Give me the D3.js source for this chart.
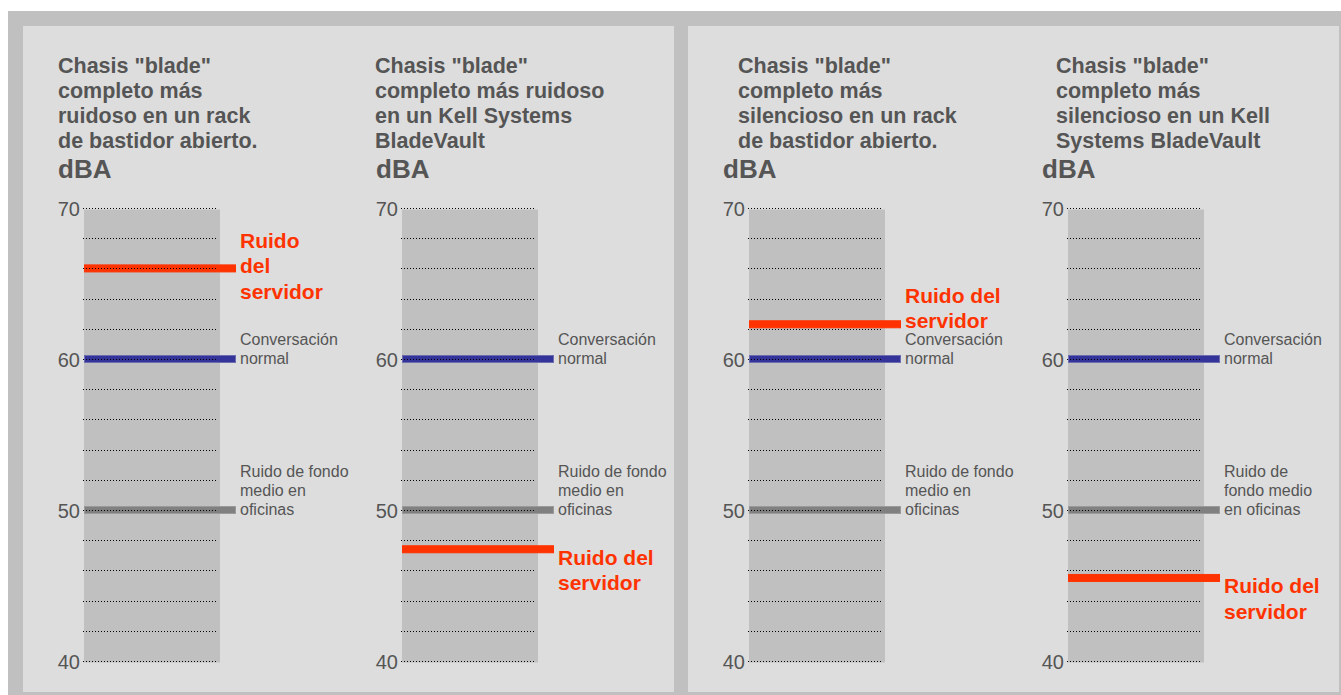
<!DOCTYPE html>
<html>
<head>
<meta charset="utf-8">
<script src="https://cdn.jsdelivr.net/npm/d3@7/dist/d3.min.js"></script>
<style>
  html, body { margin: 0; padding: 0; background: #ffffff; }
  svg { display: block; font-family: "Liberation Sans", Arial, Helvetica, sans-serif; }
</style>
</head>
<body>
<svg id="chart" width="1341" height="695"></svg>
<script>
// ---------------- data ----------------
const panelTitles = [
  ['Chasis "blade"', 'completo más', 'ruidoso en un rack', 'de bastidor abierto.'],
  ['Chasis "blade"', 'completo más ruidoso', 'en un Kell Systems', 'BladeVault'],
  ['Chasis "blade"', 'completo más', 'silencioso en un rack', 'de bastidor abierto.'],
  ['Chasis "blade"', 'completo más', 'silencioso en un Kell', 'Systems BladeVault']
];
const unitLabel = "dBA";
const serverNoise = [66, 47.4, 62.3, 45.5];
const conversationLevel = [60, 60, 60, 60];
const officeLevel = [50, 50, 50, 50];
const serverLabels = [
  ["Ruido", "del", "servidor"],
  ["Ruido del", "servidor"],
  ["Ruido del", "servidor"],
  ["Ruido del", "servidor"]
];
const conversationLabels = [
  ["Conversación", "normal"],
  ["Conversación", "normal"],
  ["Conversación", "normal"],
  ["Conversación", "normal"]
];
const officeLabels = [
  ["Ruido de fondo", "medio en", "oficinas"],
  ["Ruido de fondo", "medio en", "oficinas"],
  ["Ruido de fondo", "medio en", "oficinas"],
  ["Ruido de", "fondo medio", "en oficinas"]
];
const axisTicks = [40, 50, 60, 70];
const gridTicks = [40, 42, 44, 46, 48, 50, 52, 54, 56, 58, 60, 62, 64, 66, 68, 70];
const yDomain = [40, 70];

// ---------------- layout (not data) ----------------
const W = 1341, H = 695;
const colX = [84, 402, 749, 1068];
const titleIndent = [-26, -27, -11, -12];
const serverPlacement = ["middle", "below", "above", "below"];
const colW = 136, lineW = 151, gridW = 133;

const C = {
  frame: "#c0c0c0", panel: "#dddddd", column: "#c0c0c0",
  text: "#555555", red: "#ff3300", blue: "#333399", blueEdge: "#6c6cb0",
  gray: "#808080", grayEdge: "#9a9a9a"
};

const svg = d3.select("#chart");
svg.append("rect").attr("x", 0).attr("y", 0).attr("width", W).attr("height", H).attr("fill", "#ffffff");
svg.append("rect").attr("x", 8).attr("y", 11).attr("width", W - 8).attr("height", H - 11).attr("fill", C.frame);
svg.append("rect").attr("x", 23).attr("y", 26).attr("width", 651).attr("height", 666).attr("fill", C.panel);
svg.append("rect").attr("x", 688).attr("y", 26).attr("width", 651).attr("height", 666).attr("fill", C.panel);

const y = d3.scaleLinear().domain(yDomain).range([661, 208]);
const yGrid = d3.scaleLinear().domain(yDomain).rangeRound([661, 208]);

panelTitles.forEach((title, i) => {
  const g = svg.append("g").attr("transform", `translate(${colX[i]},0)`);

  // title
  const t = g.append("text")
    .attr("x", titleIndent[i]).attr("y", 72.7)
    .attr("font-size", 21.5).attr("font-weight", "bold").attr("fill", C.text);
  title.forEach((line, k) => {
    t.append("tspan").attr("x", titleIndent[i]).attr("dy", k === 0 ? 0 : 25.2).text(line);
  });
  g.append("text").attr("x", -26).attr("y", 178)
    .attr("font-size", 26).attr("font-weight", "bold").attr("fill", C.text)
    .text(unitLabel);

  // column
  g.append("rect").attr("x", 0).attr("y", y(yDomain[1]) + 1.5)
    .attr("width", colW).attr("height", y(yDomain[0]) - y(yDomain[1]))
    .attr("fill", C.column);

  // reference lines
  const refs = [
    { v: officeLevel[i], fill: C.gray, edge: C.grayEdge, h: 7 },
    { v: conversationLevel[i], fill: C.blue, edge: C.blueEdge, h: 7 },
    { v: serverNoise[i], fill: C.red, edge: C.red, h: 7 }
  ];
  g.selectAll("rect.ref").data(refs).join("rect")
    .attr("class", "ref")
    .attr("x", 0.5).attr("y", d => y(d.v) - d.h / 2)
    .attr("width", lineW).attr("height", d => d.h)
    .attr("fill", d => d.fill).attr("stroke", d => d.edge).attr("stroke-width", 1);

  // dotted grid
  const grid = g.append("g").attr("transform", "translate(-1,0)")
    .call(d3.axisRight(yGrid).tickValues(gridTicks).tickSize(gridW).tickFormat(""));
  grid.select(".domain").remove();
  grid.selectAll(".tick line").attr("stroke", "#000").attr("stroke-dasharray", "1,2");

  // axis labels
  const ax = g.append("g").attr("transform", "translate(-1,0)")
    .call(d3.axisLeft(y).tickValues(axisTicks).tickSize(0).tickPadding(3).tickFormat(d3.format("d")));
  ax.select(".domain").remove();
  ax.selectAll(".tick text").attr("font-size", 20).attr("fill", C.text)
    .attr("font-family", "Liberation Sans, Arial, sans-serif").attr("dy", "0.36em");

  const lx = lineW + 5;
  function multiline(lines, firstBaseline, lh, size, weight, color) {
    const tt = g.append("text").attr("x", lx).attr("y", firstBaseline)
      .attr("font-size", size).attr("font-weight", weight).attr("fill", color);
    lines.forEach((line, k) => tt.append("tspan").attr("x", lx).attr("dy", k === 0 ? 0 : lh).text(line));
  }
  // reference labels
  const smallLH = 19;
  multiline(conversationLabels[i], y(conversationLevel[i]) + 4.5 - smallLH * (conversationLabels[i].length - 1), smallLH, 16, "normal", C.text);
  multiline(officeLabels[i], y(officeLevel[i]) + 4.5 - smallLH * (officeLabels[i].length - 1), smallLH, 16, "normal", C.text);

  const redLH = 25.5;
  const n = serverLabels[i].length;
  let first;
  if (serverPlacement[i] === "middle") first = y(serverNoise[i]) + 5 - redLH * Math.floor(n / 2);
  else if (serverPlacement[i] === "above") first = y(serverNoise[i]) + 4 - redLH * (n - 1);
  else first = y(serverNoise[i]) + 15.5;
  multiline(serverLabels[i], first, redLH, 21, "bold", C.red);
});
</script>
</body>
</html>
